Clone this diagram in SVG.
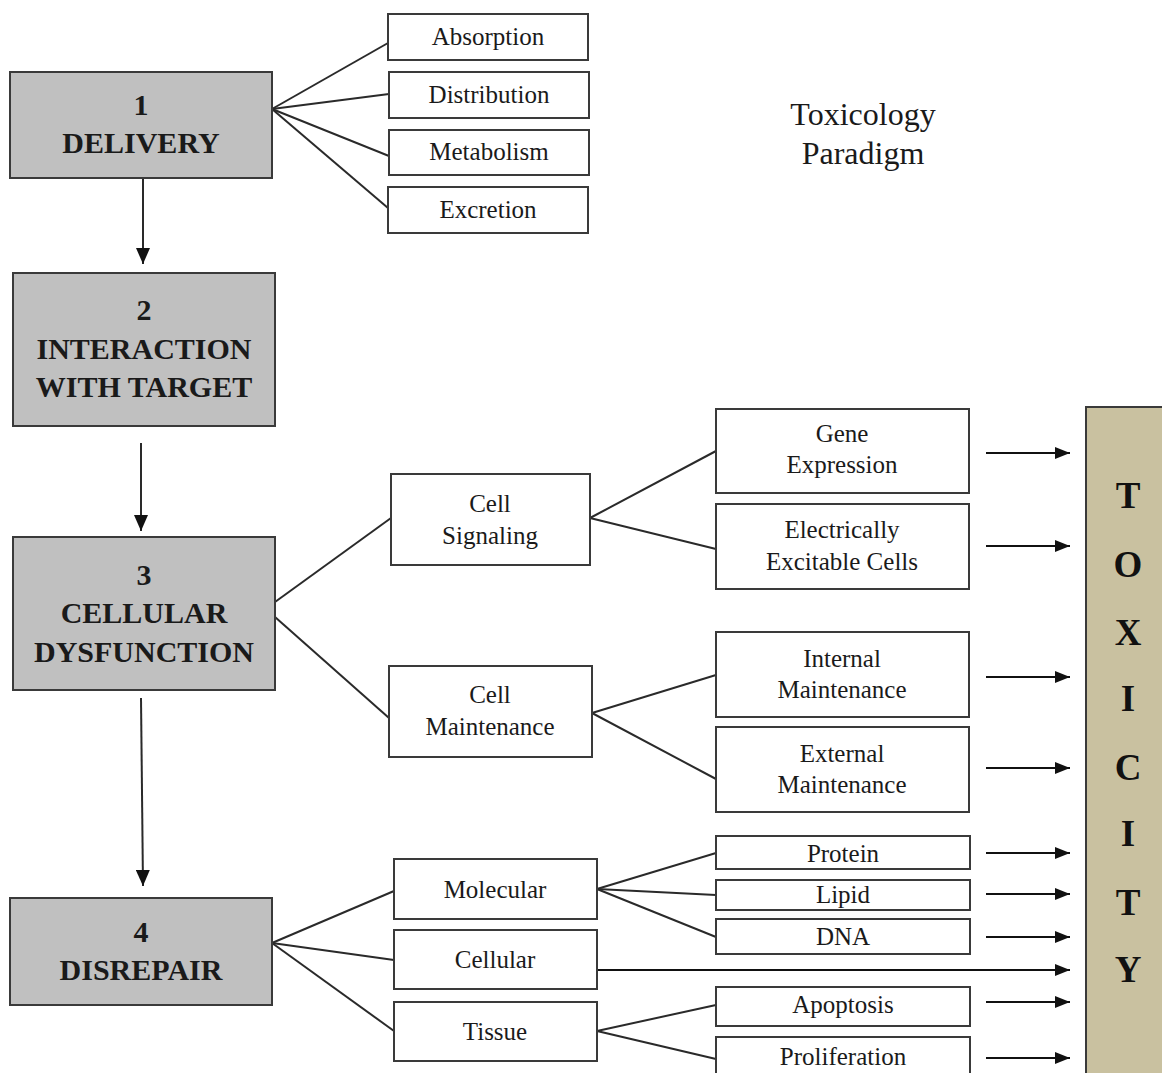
<svg xmlns="http://www.w3.org/2000/svg" width="1162" height="1073" viewBox="0 0 1162 1073">
<defs>
<marker id="ah" markerWidth="15" markerHeight="12" refX="15" refY="6" orient="auto" markerUnits="userSpaceOnUse" viewBox="0 0 15 12">
<path d="M0,0 L15,6 L0,12 z" fill="#111"/>
</marker>
<marker id="ahv" markerWidth="16" markerHeight="14" refX="16" refY="7" orient="auto" markerUnits="userSpaceOnUse" viewBox="0 0 16 14">
<path d="M0,0 L16,7 L0,14 z" fill="#111"/>
</marker>
<style>
.main{fill:#c0c0c0;stroke:#3a3a3a;stroke-width:2}
.sub{fill:#fff;stroke:#3a3a3a;stroke-width:2}
.tox{fill:#c9c1a0;stroke:#3a3a3a;stroke-width:2}
.hd{font-family:"Liberation Serif",serif;font-weight:bold;font-size:30px;fill:#1a1a1a;text-anchor:middle}
.tx{font-family:"Liberation Serif",serif;font-size:25px;fill:#1a1a1a;text-anchor:middle}
.tl{font-family:"Liberation Serif",serif;font-size:32px;fill:#1a1a1a;text-anchor:middle}
.tb{font-family:"Liberation Serif",serif;font-weight:bold;font-size:37px;fill:#111;text-anchor:middle}
.ln{stroke:#2a2a2a;stroke-width:2;fill:none}
.ar{stroke:#111;stroke-width:2;fill:none;marker-end:url(#ah)}
.av{stroke:#2a2a2a;stroke-width:2;fill:none;marker-end:url(#ahv)}
</style>
</defs>
<rect width="1162" height="1073" fill="#fff"/>

<g id="title">
<text class="tl" x="863" y="125">Toxicology</text>
<text class="tl" x="863" y="164">Paradigm</text>
</g>

<g id="connectors">
<line class="av" x1="143" y1="179" x2="143" y2="264"/>
<line class="av" x1="141" y1="443" x2="141" y2="531"/>
<line class="av" x1="141" y1="698" x2="143" y2="886"/>
<line class="ln" x1="272" y1="109" x2="388" y2="43"/>
<line class="ln" x1="272" y1="109" x2="389" y2="94"/>
<line class="ln" x1="272" y1="109" x2="389" y2="156"/>
<line class="ln" x1="272" y1="109" x2="388" y2="208"/>
<line class="ln" x1="275" y1="602" x2="391" y2="518"/>
<line class="ln" x1="275" y1="617" x2="389" y2="718"/>
<line class="ln" x1="590" y1="518" x2="716" y2="451"/>
<line class="ln" x1="590" y1="518" x2="716" y2="549"/>
<line class="ln" x1="592" y1="713" x2="716" y2="675"/>
<line class="ln" x1="592" y1="713" x2="716" y2="779"/>
<line class="ln" x1="272" y1="943" x2="394" y2="891"/>
<line class="ln" x1="272" y1="943" x2="394" y2="960"/>
<line class="ln" x1="272" y1="943" x2="394" y2="1031"/>
<line class="ln" x1="597" y1="889" x2="716" y2="853"/>
<line class="ln" x1="597" y1="889" x2="716" y2="895"/>
<line class="ln" x1="597" y1="889" x2="716" y2="937"/>
<line class="ln" x1="597" y1="1031" x2="716" y2="1005"/>
<line class="ln" x1="597" y1="1031" x2="716" y2="1059"/>
<line class="ar" x1="986" y1="453" x2="1070" y2="453"/>
<line class="ar" x1="986" y1="546" x2="1070" y2="546"/>
<line class="ar" x1="986" y1="677" x2="1070" y2="677"/>
<line class="ar" x1="986" y1="768" x2="1070" y2="768"/>
<line class="ar" x1="986" y1="853" x2="1070" y2="853"/>
<line class="ar" x1="986" y1="894" x2="1070" y2="894"/>
<line class="ar" x1="986" y1="937" x2="1070" y2="937"/>
<line class="ar" x1="597" y1="970" x2="1070" y2="970"/>
<line class="ar" x1="986" y1="1002" x2="1070" y2="1002"/>
<line class="ar" x1="986" y1="1058" x2="1070" y2="1058"/>
</g>

<g id="n1"><rect class="main" x="10" y="72" width="262" height="106"/>
<text class="hd" x="141" y="115">1</text><text class="hd" x="141" y="153">DELIVERY</text></g>
<g id="n2"><rect class="main" x="13" y="273" width="262" height="153"/>
<text class="hd" x="144" y="320">2</text><text class="hd" x="144" y="359">INTERACTION</text><text class="hd" x="144" y="397">WITH TARGET</text></g>
<g id="n3"><rect class="main" x="13" y="537" width="262" height="153"/>
<text class="hd" x="144" y="585">3</text><text class="hd" x="144" y="623">CELLULAR</text><text class="hd" x="144" y="662">DYSFUNCTION</text></g>
<g id="n4"><rect class="main" x="10" y="898" width="262" height="107"/>
<text class="hd" x="141" y="942">4</text><text class="hd" x="141" y="980">DISREPAIR</text></g>

<g id="absorption"><rect class="sub" x="388" y="14" width="200" height="46"/><text class="tx" x="488" y="45">Absorption</text></g>
<g id="distribution"><rect class="sub" x="389" y="72" width="200" height="46"/><text class="tx" x="489" y="103">Distribution</text></g>
<g id="metabolism"><rect class="sub" x="389" y="130" width="200" height="45"/><text class="tx" x="489" y="160">Metabolism</text></g>
<g id="excretion"><rect class="sub" x="388" y="187" width="200" height="46"/><text class="tx" x="488" y="218">Excretion</text></g>

<g id="cellsignaling"><rect class="sub" x="391" y="474" width="199" height="91"/><text class="tx" x="490" y="512">Cell</text><text class="tx" x="490" y="544">Signaling</text></g>
<g id="cellmaintenance"><rect class="sub" x="389" y="666" width="203" height="91"/><text class="tx" x="490" y="703">Cell</text><text class="tx" x="490" y="735">Maintenance</text></g>

<g id="gene"><rect class="sub" x="716" y="409" width="253" height="84"/><text class="tx" x="842" y="442">Gene</text><text class="tx" x="842" y="473">Expression</text></g>
<g id="electrically"><rect class="sub" x="716" y="504" width="253" height="85"/><text class="tx" x="842" y="538">Electrically</text><text class="tx" x="842" y="570">Excitable Cells</text></g>
<g id="internal"><rect class="sub" x="716" y="632" width="253" height="85"/><text class="tx" x="842" y="667">Internal</text><text class="tx" x="842" y="698">Maintenance</text></g>
<g id="external"><rect class="sub" x="716" y="727" width="253" height="85"/><text class="tx" x="842" y="762">External</text><text class="tx" x="842" y="793">Maintenance</text></g>

<g id="molecular"><rect class="sub" x="394" y="859" width="203" height="60"/><text class="tx" x="495" y="898">Molecular</text></g>
<g id="cellular"><rect class="sub" x="394" y="930" width="203" height="59"/><text class="tx" x="495" y="968">Cellular</text></g>
<g id="tissue"><rect class="sub" x="394" y="1002" width="203" height="59"/><text class="tx" x="495" y="1040">Tissue</text></g>

<g id="protein"><rect class="sub" x="716" y="836" width="254" height="33"/><text class="tx" x="843" y="862">Protein</text></g>
<g id="lipid"><rect class="sub" x="716" y="880" width="254" height="30"/><text class="tx" x="843" y="903">Lipid</text></g>
<g id="dna"><rect class="sub" x="716" y="919" width="254" height="35"/><text class="tx" x="843" y="945">DNA</text></g>
<g id="apoptosis"><rect class="sub" x="716" y="987" width="254" height="39"/><text class="tx" x="843" y="1013">Apoptosis</text></g>
<g id="proliferation"><rect class="sub" x="716" y="1037" width="254" height="45"/><text class="tx" x="843" y="1065">Proliferation</text></g>

<g id="toxicity"><rect class="tox" x="1086" y="407" width="90" height="680"/>
<text class="tb" x="1128" y="508">T</text>
<text class="tb" x="1128" y="577">O</text>
<text class="tb" x="1128" y="645">X</text>
<text class="tb" x="1128" y="711">I</text>
<text class="tb" x="1128" y="780">C</text>
<text class="tb" x="1128" y="846">I</text>
<text class="tb" x="1128" y="915">T</text>
<text class="tb" x="1128" y="982">Y</text>
</g>
</svg>
